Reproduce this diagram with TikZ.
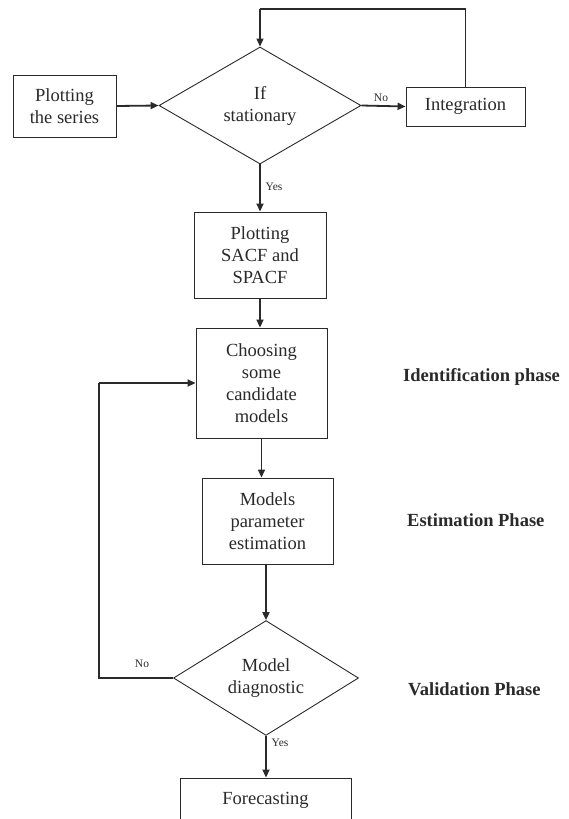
\documentclass[tikz,border=0pt]{standalone}
\usepackage{fontspec}
\setmainfont{Liberation Serif}
\usetikzlibrary{shapes.geometric,arrows.meta}
\definecolor{ink}{HTML}{2A2A2A}
\tikzset{
  box/.style={draw=ink, line width=0.9pt, rectangle, inner sep=0pt, align=center,
    font=\fontsize{18.5}{22}\selectfont, text=ink},
  dec/.style={draw=ink, line width=0.9pt, diamond, inner sep=0pt, align=center,
    font=\fontsize{18.5}{22}\selectfont, text=ink},
  flow/.style={draw=ink, line width=1.8pt, -{Triangle[length=8pt,width=7pt]}},
  thin flow/.style={draw=ink, line width=1.2pt},
  small/.style={font=\fontsize{11.5}{13}\selectfont, text=ink, inner sep=0pt},
  phase/.style={font=\bfseries\fontsize{18.5}{22}\selectfont, text=ink, inner sep=0pt, anchor=west}
}
\begin{document}
\begin{tikzpicture}[x=1pt,y=-1pt]
\useasboundingbox[fill=white] (0,0) rectangle (568,819);

\node[box, minimum width=103pt, minimum height=62pt] (series) at (64.5,106) {Plotting\\the series};
\node[dec, minimum width=202pt, minimum height=117pt] (d1) at (260,105.5) {If\\stationary};
\node[box, minimum width=119pt, minimum height=39pt] (integ) at (465.5,106.5) {Integration};
\node[box, minimum width=132pt, minimum height=86pt] (sacf) at (260,255) {Plotting\\SACF and\\SPACF};
\node[box, minimum width=131pt, minimum height=110pt] (choose) at (261.5,383) {Choosing\\some\\candidate\\models};
\node[box, minimum width=131pt, minimum height=86pt] (models) at (267.5,521) {Models\\parameter\\estimation};
\node[dec, minimum width=185pt, minimum height=106pt] (d2) at (266,678) {Model\\diagnostic};
\node[box, minimum width=171pt, minimum height=44pt] (fore) at (265.5,800) {Forecasting};

\node[phase] (p1) at (403,377) {Identification phase};
\node[phase] (p2) at (407,520) {Estimation Phase};
\node[phase] (p3) at (408,689) {Validation Phase};

\coordinate (top) at (260,9);
\coordinate (loopA) at (99,678);
\coordinate (loopB) at (99,383);

\draw[flow] (series.east) -- (d1.west);
\draw[flow] (d1.east) -- (integ.west);
\node[small] (no1) at (381,98) {No};
\draw[thin flow] (integ.north) |- (top);
\draw[flow, line width=1.2pt] (top) -- (d1.north);
\draw[flow] (d1.south) -- (sacf.north);
\node[small] (yes1) at (274,187) {Yes};
\draw[flow] (sacf.south) -- (sacf.south |- choose.north);
\draw[flow, line width=1.4pt] (choose.south) -- (choose.south |- models.north);
\draw[flow] (models.south -| d2.north) -- (d2.north);
\draw[thin flow] (d2.west) -- (loopA) -- (loopB);
\draw[flow] (loopB) -- (choose.west);
\node[small] (no2) at (142,664) {No};
\draw[flow] (d2.south) -- (fore.north -| d2.south);
\node[small] (yes2) at (280,743) {Yes};
\end{tikzpicture}
\end{document}
